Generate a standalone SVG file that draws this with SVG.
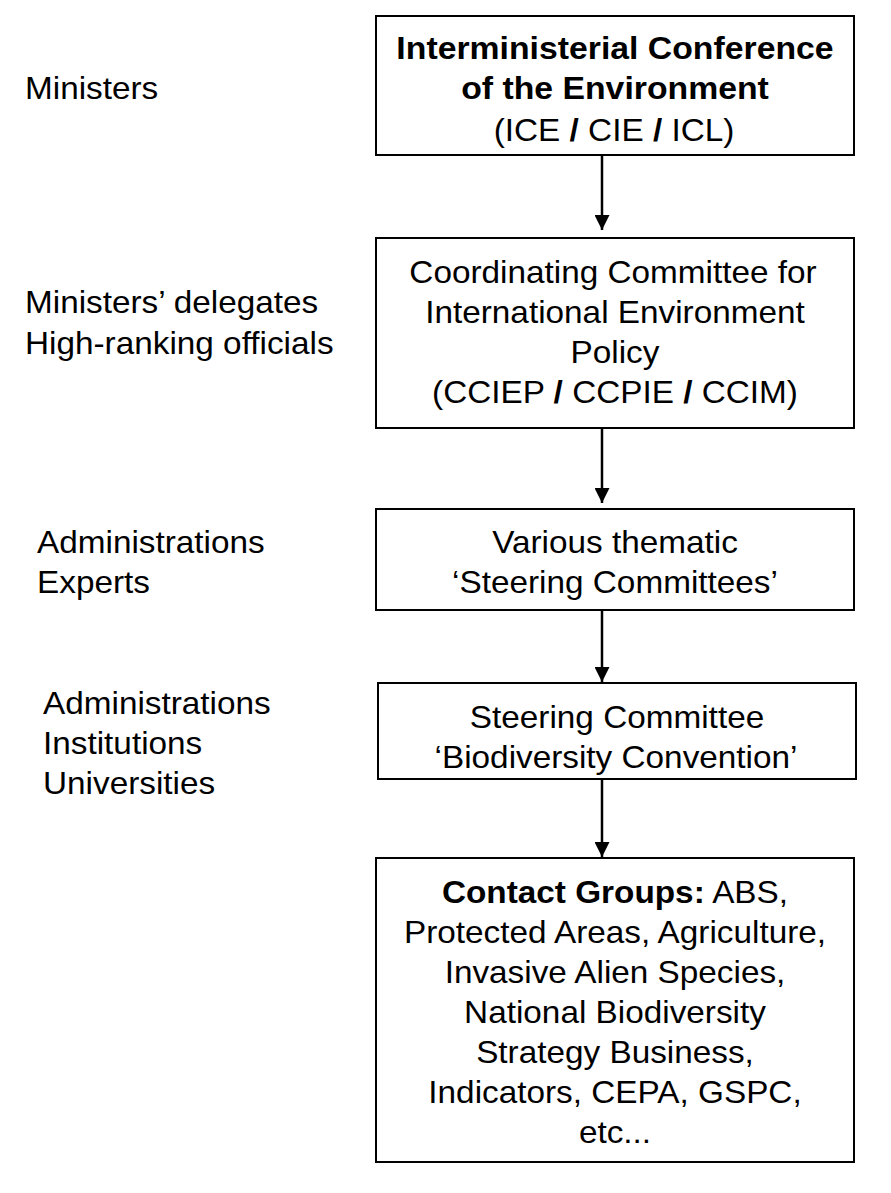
<svg xmlns="http://www.w3.org/2000/svg" width="891" height="1193" viewBox="0 0 891 1193">
<style>
text{font-family:"Liberation Sans",Arial,sans-serif;font-size:31px;fill:#000}
.c{text-anchor:middle}
.b{font-weight:bold}
rect{fill:#fff;stroke:#000;stroke-width:2}
.con line{stroke:#000;stroke-width:2.5}
</style>
<defs>
<marker id="ah" viewBox="0 0 10 10" refX="10" refY="5" markerWidth="6" markerHeight="6" markerUnits="strokeWidth" orient="auto">
<path d="M0,0 L10,5 L0,10 z" fill="#000"/>
</marker>
</defs>
<rect x="0" y="0" width="891" height="1193" style="stroke:none"/>
<g id="labels">
<text transform="matrix(1.075 0 0 1 25 99)">Ministers</text>
<text transform="matrix(1.075 0 0 1 25 313)">Ministers’ delegates</text>
<text transform="matrix(1.075 0 0 1 25 354)">High-ranking officials</text>
<text transform="matrix(1.075 0 0 1 37 553)">Administrations</text>
<text transform="matrix(1.075 0 0 1 37 593)">Experts</text>
<text transform="matrix(1.075 0 0 1 43 714)">Administrations</text>
<text transform="matrix(1.075 0 0 1 43 754)">Institutions</text>
<text transform="matrix(1.075 0 0 1 43 794)">Universities</text>
</g>
<g class="con" id="connectors">
<line x1="602" y1="156" x2="602" y2="230" marker-end="url(#ah)"/>
<line x1="602" y1="429" x2="602" y2="503" marker-end="url(#ah)"/>
<line x1="602" y1="611" x2="602" y2="682" marker-end="url(#ah)"/>
<line x1="602" y1="780" x2="602" y2="857" marker-end="url(#ah)"/>
</g>
<g id="ice">
<rect x="376" y="16" width="478" height="139"/>
<text class="c b" transform="matrix(1.09 0 0 1 615 59)">Interministerial Conference</text>
<text class="c b" transform="matrix(1.09 0 0 1 615 99)">of the Environment</text>
<text class="c" transform="matrix(1.075 0 0 1 614 141)">(ICE <tspan class="b">/</tspan> CIE <tspan class="b">/</tspan> ICL)</text>
</g>
<g id="cciep">
<rect x="376" y="238" width="478" height="190"/>
<text class="c" transform="matrix(1.075 0 0 1 613 283)">Coordinating Committee for</text>
<text class="c" transform="matrix(1.075 0 0 1 615 323)">International Environment</text>
<text class="c" transform="matrix(1.075 0 0 1 615 363)">Policy</text>
<text class="c" transform="matrix(1.075 0 0 1 615 403)">(CCIEP <tspan class="b">/</tspan> CCPIE <tspan class="b">/</tspan> CCIM)</text>
</g>
<g id="thematic">
<rect x="376" y="509" width="478" height="101"/>
<text class="c" transform="matrix(1.075 0 0 1 615 553)">Various thematic</text>
<text class="c" transform="matrix(1.075 0 0 1 615 593)">‘Steering Committees’</text>
</g>
<g id="biodiv">
<rect x="378" y="683" width="478" height="96"/>
<text class="c" transform="matrix(1.075 0 0 1 617 728)">Steering Committee</text>
<text class="c" transform="matrix(1.075 0 0 1 616 768)">‘Biodiversity Convention’</text>
</g>
<g id="contact">
<rect x="376" y="858" width="478" height="304"/>
<text class="c" transform="matrix(1.075 0 0 1 615 903)"><tspan class="b">Contact Groups:</tspan> ABS,</text>
<text class="c" transform="matrix(1.075 0 0 1 615 943)">Protected Areas, Agriculture,</text>
<text class="c" transform="matrix(1.075 0 0 1 615 983)">Invasive Alien Species,</text>
<text class="c" transform="matrix(1.075 0 0 1 615 1023)">National Biodiversity</text>
<text class="c" transform="matrix(1.075 0 0 1 615 1063)">Strategy Business,</text>
<text class="c" transform="matrix(1.075 0 0 1 615 1103)">Indicators, CEPA, GSPC,</text>
<text class="c" transform="matrix(1.075 0 0 1 615 1143)">etc...</text>
</g>
</svg>
